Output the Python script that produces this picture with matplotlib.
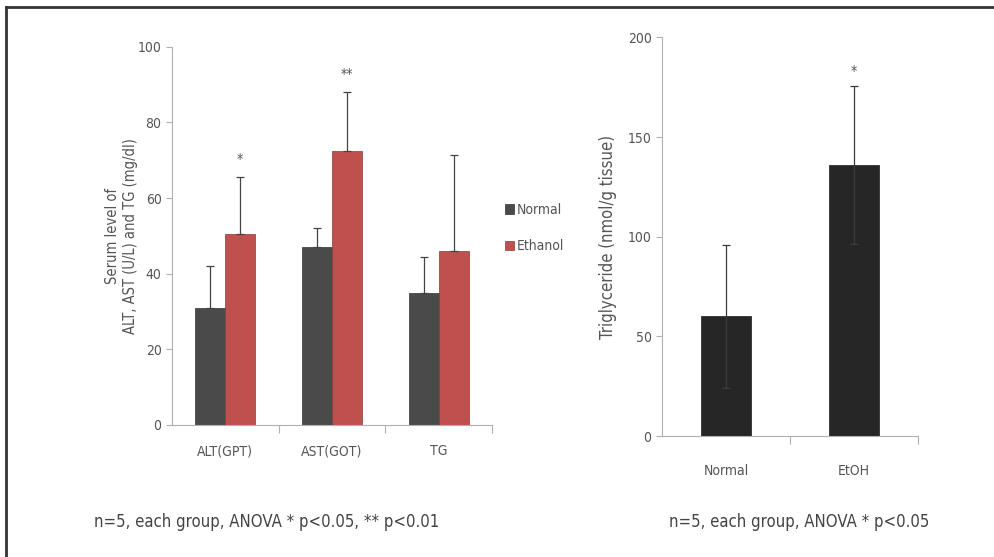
import numpy as np
import matplotlib
matplotlib.use("Agg")
import matplotlib.pyplot as plt
from matplotlib.lines import Line2D

plt.rcParams['font.family'] = ['DejaVu Sans']
plt.rcParams['font.stretch'] = 'condensed'

# --- data: serum levels (left panel) ---
groups = ['ALT(GPT)', 'AST(GOT)', 'TG']
normal_mean = [31, 47, 35]
normal_err = [11, 5, 9.5]
ethanol_mean = [50.5, 72.5, 46]
ethanol_err = [15, 15.5, 25.5]
sig_left = ['*', '**', '']

# --- data: hepatic triglyceride (right panel) ---
tg_groups = ['Normal', 'EtOH']
tg_mean = [60, 136]
tg_err = [36, 39.5]
sig_right = ['', '*']

C_NORMAL = '#4a4a4a'
C_ETHANOL = '#c0504d'
C_TG = '#262626'
AX_COL = '#b0b0b0'
TXT_COL = '#555555'

fig = plt.figure(figsize=(9.94, 5.57), dpi=100)

# frame line on top and left like the cropped figure
fig.add_artist(Line2D([0.006, 0.006], [0, 0.988], transform=fig.transFigure, color='#333333', lw=2))
fig.add_artist(Line2D([0.006, 1.0], [0.988, 0.988], transform=fig.transFigure, color='#333333', lw=2))


def style_axes(ax):
    for s in ['top', 'right']:
        ax.spines[s].set_visible(False)
    for s in ['left', 'bottom']:
        ax.spines[s].set_color(AX_COL)
        ax.spines[s].set_linewidth(0.8)
    ax.tick_params(axis='y', colors=AX_COL, labelcolor=TXT_COL, labelsize=10, length=4, width=0.8)
    ax.tick_params(axis='x', which='major', length=0, labelcolor=TXT_COL, labelsize=10, pad=14)
    ax.tick_params(axis='x', which='minor', length=6, color=AX_COL, width=0.8)


# ---------- left panel ----------
ax1 = fig.add_axes([0.173, 0.237, 0.322, 0.679])
x = np.arange(len(groups))
w = 0.28
ax1.bar(x - w / 2, normal_mean, w, color=C_NORMAL, edgecolor='#333333', lw=0.5, label='Normal')
ax1.bar(x + w / 2, ethanol_mean, w, color=C_ETHANOL, edgecolor='#8a3a37', lw=0.5, label='Ethanol')
ax1.errorbar(x - w / 2, normal_mean, yerr=[np.zeros(3), normal_err], fmt='none',
             ecolor='#444444', elinewidth=0.9, capsize=3, capthick=0.9)
ax1.errorbar(x + w / 2, ethanol_mean, yerr=[np.zeros(3), ethanol_err], fmt='none',
             ecolor='#444444', elinewidth=0.9, capsize=3, capthick=0.9)
for i, s in enumerate(sig_left):
    if s:
        ax1.text(x[i] + w / 2, ethanol_mean[i] + ethanol_err[i] + 3, s, ha='center',
                 va='bottom', fontsize=10, color=TXT_COL)
ax1.set_xlim(-0.5, 2.5)
ax1.set_ylim(0, 100)
ax1.set_yticks([0, 20, 40, 60, 80, 100])
ax1.set_xticks(x)
ax1.set_xticklabels(groups)
ax1.set_xticks([0.5, 1.5, 2.5], minor=True)
ax1.set_ylabel('Serum level of\nALT, AST (U/L) and TG (mg/dl)', color=TXT_COL, fontsize=10.5, labelpad=0)
style_axes(ax1)
ax1.legend(loc='center left', bbox_to_anchor=(1.0, 0.52), frameon=False, fontsize=10,
           handlelength=0.7, handleheight=0.7, handletextpad=0.2, labelspacing=1.6,
           labelcolor=TXT_COL)

# ---------- right panel ----------
ax2 = fig.add_axes([0.666, 0.217, 0.2575, 0.716])
x2 = np.arange(len(tg_groups))
ax2.bar(x2, tg_mean, 0.39, color=C_TG, edgecolor='#1a1a1a', lw=0.5)
ax2.errorbar(x2, tg_mean, yerr=tg_err, fmt='none', ecolor='#3a3a3a', elinewidth=0.9,
             capsize=3, capthick=0.9)
for i, s in enumerate(sig_right):
    if s:
        ax2.text(x2[i], tg_mean[i] + tg_err[i] + 4, s, ha='center', va='bottom',
                 fontsize=10, color=TXT_COL)
ax2.set_xlim(-0.5, 1.5)
ax2.set_ylim(0, 200)
ax2.set_yticks([0, 50, 100, 150, 200])
ax2.set_xticks(x2)
ax2.set_xticklabels(tg_groups)
ax2.set_xticks([0.5, 1.5], minor=True)
ax2.set_ylabel('Triglyceride (nmol/g tissue)', color=TXT_COL, fontsize=12, labelpad=8)
style_axes(ax2)
ax2.tick_params(axis='x', which='major', pad=20)

# ---------- footnotes ----------
fig.text(0.268, 0.063, 'n=5, each group, ANOVA * p<0.05, ** p<0.01', ha='center', va='center',
         fontsize=12, color='#444444')
fig.text(0.804, 0.063, 'n=5, each group, ANOVA * p<0.05', ha='center', va='center',
         fontsize=12, color='#444444')

fig.savefig('out.png', dpi=100)
